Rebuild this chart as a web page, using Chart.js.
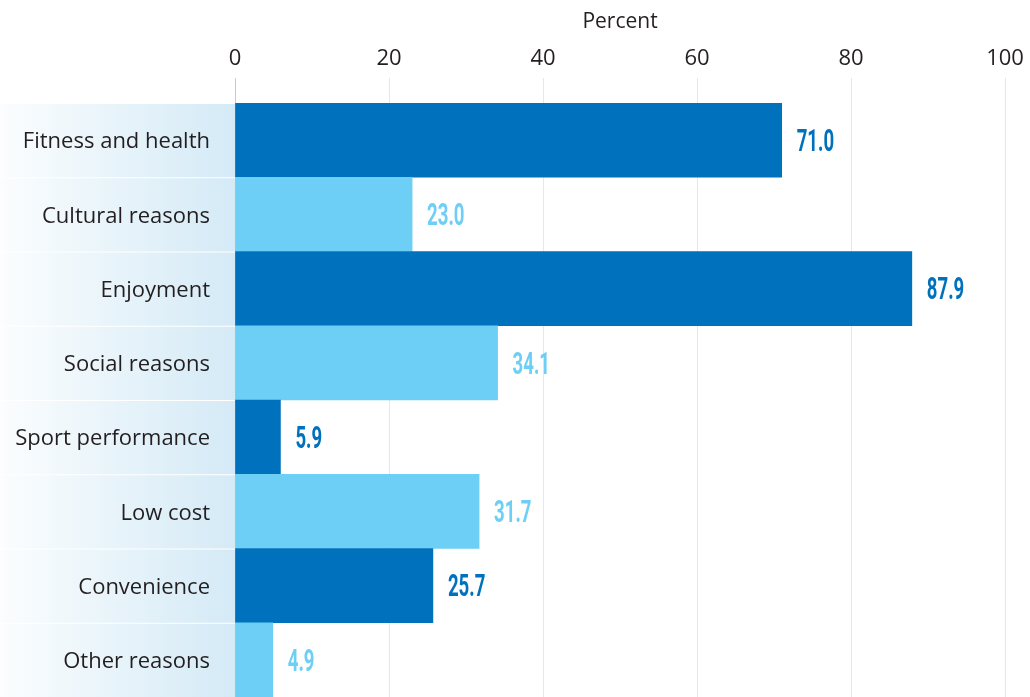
<!DOCTYPE html>
<html>
<head>
<meta charset="utf-8">
<script src="https://cdn.jsdelivr.net/npm/chart.js@4/dist/chart.umd.min.js"></script>
<style>
  html, body { margin: 0; padding: 0; background: #fff; }
  #wrap { width: 1030px; height: 697px; position: relative; }
</style>
</head>
<body>
<div id="wrap"><canvas id="chart"></canvas></div>
<script>
// ── Dados ─────────────────────────────────────────────
const CATEGORIES = [
  "Fitness and health",
  "Cultural reasons",
  "Enjoyment",
  "Social reasons",
  "Sport performance",
  "Low cost",
  "Convenience",
  "Other reasons",
];
const VALUES = [71.0, 23.0, 87.9, 34.1, 5.9, 31.7, 25.7, 4.9];
const X_TICKS = [0, 20, 40, 60, 80, 100];
const AXIS_TITLE = "Percent";

// ── Cores ─────────────────────────────────────────────
const DARK = "#0071bc";
const LIGHT = "#6dcff6";
const GRID = "#d6edf8";
const barColor = (i) => (i % 2 === 0 ? DARK : LIGHT);

const LABEL_W = 235;
const TOP_H = 103;
const FONT = "'Open Sans', 'Noto Sans', sans-serif";

// fundo em degradê atrás dos rótulos
const rowBackground = {
  id: "rowBackground",
  beforeDraw(chart) {
    const { ctx, scales } = chart;
    const y = scales.y;
    const left = chart.chartArea.left;
    const grad = ctx.createLinearGradient(0, 0, left, 0);
    grad.addColorStop(0, "#fbfdfe");
    grad.addColorStop(1, "#d4eaf6");
    const half = (y.getPixelForValue(1) - y.getPixelForValue(0)) / 2;
    ctx.save();
    ctx.fillStyle = grad;
    CATEGORIES.forEach((c, i) => {
      const cy = y.getPixelForValue(i);
      ctx.fillRect(0, cy - half + 1, left, half * 2 - 1);
    });
    ctx.restore();
  },
};

// rótulos de valor condensados
const valueLabels = {
  id: "valueLabels",
  afterDatasetsDraw(chart) {
    const { ctx } = chart;
    const meta = chart.getDatasetMeta(0);
    ctx.save();
    ctx.font = "bold 31px Roboto, 'DejaVu Sans', sans-serif";
    ctx.textBaseline = "middle";
    meta.data.forEach((bar, i) => {
      ctx.save();
      ctx.translate(bar.x + 15, bar.y + 3);
      ctx.scale(0.6, 1);
      ctx.fillStyle = barColor(i);
      ctx.fillText(VALUES[i].toFixed(1), 0, 0);
      ctx.restore();
    });
    ctx.restore();
  },
};

new Chart(document.getElementById("chart"), {
  type: "bar",
  data: {
    labels: CATEGORIES,
    datasets: [
      {
        data: VALUES,
        backgroundColor: VALUES.map((v, i) => barColor(i)),
        borderWidth: 0,
        barPercentage: 1,
        categoryPercentage: 1,
      },
    ],
  },
  options: {
    indexAxis: "y",
    responsive: true,
    maintainAspectRatio: false,
    animation: false,
    layout: { padding: { top: 0, right: 25, bottom: 0, left: 0 } },
    plugins: { legend: { display: false }, tooltip: { enabled: false } },
    scales: {
      x: {
        position: "top",
        min: 0,
        max: 100,
        afterFit: (s) => { s.height = TOP_H; },
        afterBuildTicks: (s) => { s.ticks = X_TICKS.map((v) => ({ value: v })); },
        border: { display: false },
        grid: {
          color: (c) => (c.tick && c.tick.value === 0 ? "#9fd9f2" : GRID),
          lineWidth: 1,
          drawTicks: true,
          tickLength: 25,
        },
        ticks: {
          color: "#231f20",
          font: { family: FONT, size: 22 },
          padding: 6,
        },
        title: {
          display: true,
          text: AXIS_TITLE,
          color: "#231f20",
          font: { family: FONT, size: 21 },
          padding: { top: 9, bottom: 0 },
        },
      },
      y: {
        afterFit: (s) => {
          s.width = LABEL_W;
          s.paddingTop = 0;
          s.paddingBottom = 0;
        },
        border: { display: false },
        grid: { display: false, drawTicks: false },
        ticks: {
          color: "#231f20",
          font: { family: FONT, size: 22 },
          padding: 25,
          labelOffset: 2,
        },
      },
    },
  },
  plugins: [rowBackground, valueLabels],
});
</script>
</body>
</html>
